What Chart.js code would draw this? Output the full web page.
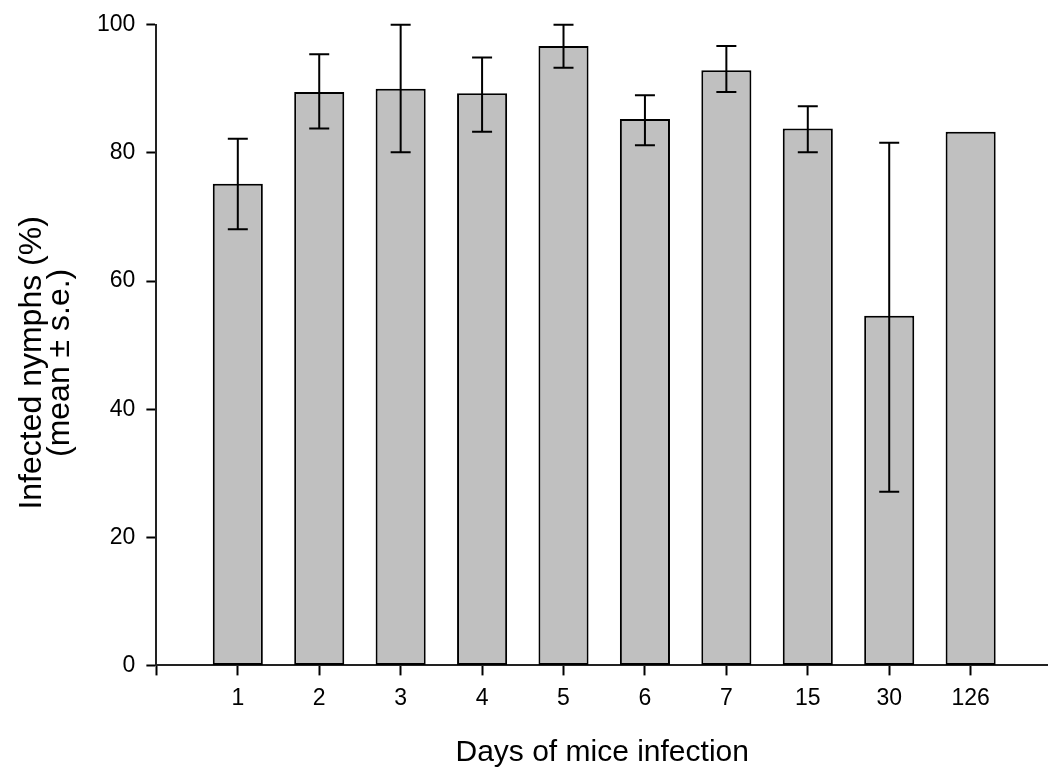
<!DOCTYPE html>
<html>
<head>
<meta charset="utf-8">
<script src="https://cdn.jsdelivr.net/npm/chart.js@4.4.1/dist/chart.umd.min.js"></script>
<style>
  body { margin: 0; background: #fff; }
  #wrap { width: 1048px; height: 771px; }
</style>
</head>
<body>
<div id="wrap"><canvas id="nymphChart"></canvas></div>
<script>
// days after mice infection (x categories)
const days = ['1', '2', '3', '4', '5', '6', '7', '15', '30', '126'];
// mean % infected nymphs
const infectedMean = [75.2, 89.5, 90.0, 89.3, 96.7, 85.3, 92.9, 83.8, 54.6, 83.3];
// mean + s.e. / mean - s.e. (null = no error bar)
const seUpper = [82.2, 95.4, 100.0, 94.9, 100.0, 89.0, 96.7, 87.3, 81.6, null];
const seLower = [68.1, 83.8, 80.1, 83.3, 93.3, 81.2, 89.5, 80.1, 27.1, null];
const yTicks = [0, 20, 40, 60, 80, 100];

const fontFamily = '"Liberation Sans", Arial, sans-serif';

// bars sit at slot 1..n, slot 0 is the empty space next to the y axis
const points = days.map((d, i) => ({ x: i + 1, y: infectedMean[i] }));

// draw the s.e. whiskers using the chart scales
const errorBars = {
    id: 'errorBars',
    afterDatasetsDraw(chart) {
        const ctx = chart.ctx;
        const yScale = chart.scales.y;
        const meta = chart.getDatasetMeta(0);
        ctx.save();
        ctx.strokeStyle = '#000';
        ctx.lineWidth = 2;
        meta.data.forEach((bar, i) => {
            if (seUpper[i] == null) return;
            const x = bar.x;
            const top = yScale.getPixelForValue(seUpper[i]);
            const bottom = yScale.getPixelForValue(seLower[i]);
            ctx.beginPath();
            ctx.moveTo(x, top);
            ctx.lineTo(x, bottom);
            ctx.moveTo(x - 10, top);
            ctx.lineTo(x + 10, top);
            ctx.moveTo(x - 10, bottom);
            ctx.lineTo(x + 10, bottom);
            ctx.stroke();
        });
        ctx.restore();
    }
};

const ctx = document.getElementById('nymphChart').getContext('2d');
const nymphChart = new Chart(ctx, {
    type: 'bar',
    data: {
        datasets: [{
            data: points,
            backgroundColor: '#c0c0c0',
            borderColor: '#000',
            borderWidth: 2,
            borderSkipped: false,
            categoryPercentage: 1,
            barPercentage: 0.615
        }]
    },
    options: {
        responsive: true,
        maintainAspectRatio: false,
        animation: false,
        layout: { padding: { left: 10, top: 22, right: 0, bottom: 0 } },
        plugins: {
            legend: { display: false },
            tooltip: { enabled: false }
        },
        scales: {
            x: {
                type: 'linear',
                min: 0,
                max: 10.95,
                offset: false,
                grid: {
                    offset: false,
                    drawOnChartArea: false,
                    drawTicks: true,
                    tickLength: 10,
                    tickColor: '#000',
                    tickWidth: 2
                },
                border: { display: true, color: '#222', width: 2 },
                ticks: {
                    stepSize: 1,
                    includeBounds: false,
                    autoSkip: false,
                    maxRotation: 0,
                    padding: 9,
                    color: '#000',
                    font: { family: fontFamily, size: 23 },
                    callback: (v) => (v >= 1 && v <= days.length ? days[v - 1] : '')
                },
                title: {
                    display: true,
                    text: 'Days of mice infection',
                    color: '#000',
                    font: { family: fontFamily, size: 30 },
                    padding: { top: 14, bottom: 0 }
                }
            },
            y: {
                min: 0,
                max: 100,
                afterBuildTicks: (scale) => { scale.ticks = yTicks.map(v => ({ value: v })); },
                grid: {
                    drawOnChartArea: false,
                    drawTicks: true,
                    tickLength: 10,
                    tickColor: '#000',
                    tickWidth: 2
                },
                border: { display: true, color: '#222', width: 2 },
                ticks: {
                    padding: 11,
                    color: '#000',
                    font: { family: fontFamily, size: 23 }
                },
                title: {
                    display: true,
                    text: ['Infected nymphs (%)    ', '(mean \u00b1 s.e.)    '],
                    color: '#000',
                    font: { family: fontFamily, size: 32, lineHeight: 0.875 },
                    padding: { top: 8, bottom: 12 }
                }
            }
        }
    },
    plugins: [errorBars]
});
</script>
</body>
</html>
